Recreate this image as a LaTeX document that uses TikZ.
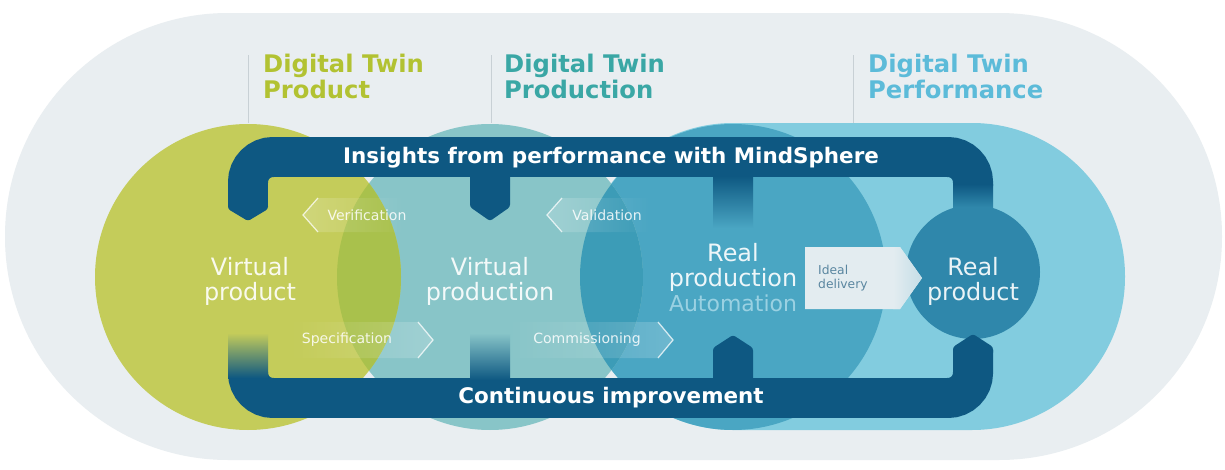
\documentclass[tikz,border=0pt]{standalone}
\usepackage{fontspec}
\setmainfont{DejaVu Sans}
\usetikzlibrary{fadings}

\definecolor{bgrey}{HTML}{E9EEF1}
\definecolor{perfcyan}{HTML}{82CCDF}
\definecolor{prodgreen}{HTML}{C4CC5A}
\definecolor{lensgreen}{HTML}{A9C14C}
\definecolor{vprodteal}{HTML}{88C5C8}
\definecolor{lensblue}{HTML}{3C9CB7}
\definecolor{rprodblue}{HTML}{4AA6C3}
\definecolor{rproduct}{HTML}{2F87AB}
\definecolor{loopnavy}{HTML}{0E5882}
\definecolor{titlegreen}{HTML}{B2C232}
\definecolor{titleteal}{HTML}{3AA7A5}
\definecolor{titleblue}{HTML}{5CBBD9}
\definecolor{autoblue}{HTML}{A3D6E6}
\definecolor{leader}{HTML}{C8D0D5}
\definecolor{delivbox}{HTML}{E3ECF0}
\definecolor{delivtext}{HTML}{5A86A0}

\tikzfading[name=fade right, left color=transparent!0, right color=transparent!100]
\tikzfading[name=fade left, left color=transparent!100, right color=transparent!0]

\begin{document}
\begin{tikzpicture}[x=0.02cm, y=-0.02cm,
titletext/.style={anchor=base west, align=left, font=\bfseries\fontsize{13.8}{14.7}\selectfont},
stagetext/.style={align=center, text=white, text opacity=0.9, font=\fontsize{13.6}{14.2}\selectfont},
bandtext/.style={text=white, font=\bfseries\fontsize{12.2}{14}\selectfont},
hinttext/.style={text=white, text opacity=0.85, font=\fontsize{8}{9}\selectfont},
bandline/.style={draw=loopnavy, line width=0.8cm, rounded corners=0.5cm},
bandtip/.style={fill=loopnavy, rounded corners=0.05cm},
chevline/.style={draw=white, draw opacity=0.75, line width=0.7pt},
chevbody/.style={fill=white, fill opacity=0.2}
]

\useasboundingbox (0,0) rectangle (1225,470);
\fill[white] (0,0) rectangle (1225,470);

% backdrop and the three twins
\fill[bgrey, rounded corners=4.46cm] (5,13) rectangle (1222,460);
\fill[perfcyan, rounded corners=3.06cm] (580,123) rectangle (1125,430);
\fill[rprodblue] (733,277) circle[radius=153];
\fill[vprodteal] (490,277) circle[radius=153];
\begin{scope}
\clip (490,277) circle[radius=153];
\fill[lensblue] (733,277) circle[radius=153];
\end{scope}
\fill[prodgreen] (248,277) circle[radius=153];
\begin{scope}
\clip (248,277) circle[radius=153];
\fill[lensgreen] (490,277) circle[radius=153];
\end{scope}
\fill[rproduct] (973,272) circle[radius=67];

\draw[leader, line width=0.5pt] (248,55) -- (248,123);
\draw[leader, line width=0.5pt] (491,55) -- (491,123);
\draw[leader, line width=0.5pt] (853,55) -- (853,123);

% chevrons
\fill[chevbody, path fading=fade right] (303,215) -- (318,198) -- (405,198) -- (405,232) -- (318,232) -- cycle;
\draw[chevline] (318,198) -- (303,215) -- (318,232);
\fill[chevbody, path fading=fade left] (290,322) -- (418,322) -- (433,340) -- (418,358) -- (290,358) -- cycle;
\draw[chevline] (418,322) -- (433,340) -- (418,358);
\fill[chevbody, path fading=fade right] (547,215) -- (562,198) -- (650,198) -- (650,232) -- (562,232) -- cycle;
\draw[chevline] (562,198) -- (547,215) -- (562,232);
\fill[chevbody, path fading=fade left] (505,322) -- (658,322) -- (673,340) -- (658,358) -- (505,358) -- cycle;
\draw[chevline] (658,322) -- (673,340) -- (658,358);

\node[hinttext] (verif) at (367,215) {Verification};
\node[hinttext] (valid) at (607,215) {Validation};
\node[hinttext] (specif) at (347,340) {Specification};
\node[hinttext] (commis) at (587,340) {Commissioning};

% delivery box
\fill[delivbox] (805,247) -- (900,247) -- (922,278) -- (900,309) -- (805,309) -- cycle;
\shade[left color=delivbox, right color=delivbox!80!rprodblue] (893,247) -- (900,247) -- (922,278) -- (900,309) -- (893,309) -- cycle;
\node[anchor=west, align=left, text=delivtext, font=\fontsize{7}{8}\selectfont] (deliv) at (812,278) {Ideal\\delivery};

% feedback loop
\draw[bandline] (248,206) -- (248,157) -- (973,157) -- (973,186);
\fill[bandtip] (228,204) -- (268,204) -- (268,209) -- (248,221) -- (228,209) -- cycle;
\fill[bandtip] (470,170) -- (510,170) -- (510,207) -- (490,221) -- (470,207) -- cycle;
\shade[top color=loopnavy, bottom color=rprodblue] (713,176) rectangle (753,228);
\shade[top color=loopnavy, bottom color=rproduct] (953,184) rectangle (993,207);

\draw[bandline] (248,370) -- (248,398) -- (973,398) -- (973,350);
\shade[top color=prodgreen, bottom color=loopnavy] (228,333) rectangle (268,378);
\shade[top color=vprodteal, bottom color=loopnavy] (470,333) rectangle (510,380);
\fill[bandtip] (713,385) -- (713,348) -- (733,335) -- (753,348) -- (753,385) -- cycle;
\fill[bandtip] (953,355) -- (953,347) -- (973,334) -- (993,347) -- (993,355) -- cycle;

\node[bandtext] (insights) at (611,158) {Insights from performance with MindSphere};
\node[bandtext] (improve) at (611,398) {Continuous improvement};

% labels
\node[titletext, text=titlegreen] (dtproduct) at (257,98) {Digital Twin\\Product};
\node[titletext, text=titleteal] (dtproduction) at (498,98) {Digital Twin\\Production};
\node[titletext, text=titleblue] (dtperformance) at (862,98) {Digital Twin\\Performance};

\node[stagetext] (vproduct) at (250,281) {Virtual\\product};
\node[stagetext] (vproduction) at (490,281) {Virtual\\production};
\node[stagetext] (rproduction) at (733,278) {Real\\production\\{\fontsize{12.5}{14.2}\selectfont\color{autoblue}Automation}};
\node[stagetext] (rproductlbl) at (973,281) {Real\\product};

\end{tikzpicture}
\end{document}
